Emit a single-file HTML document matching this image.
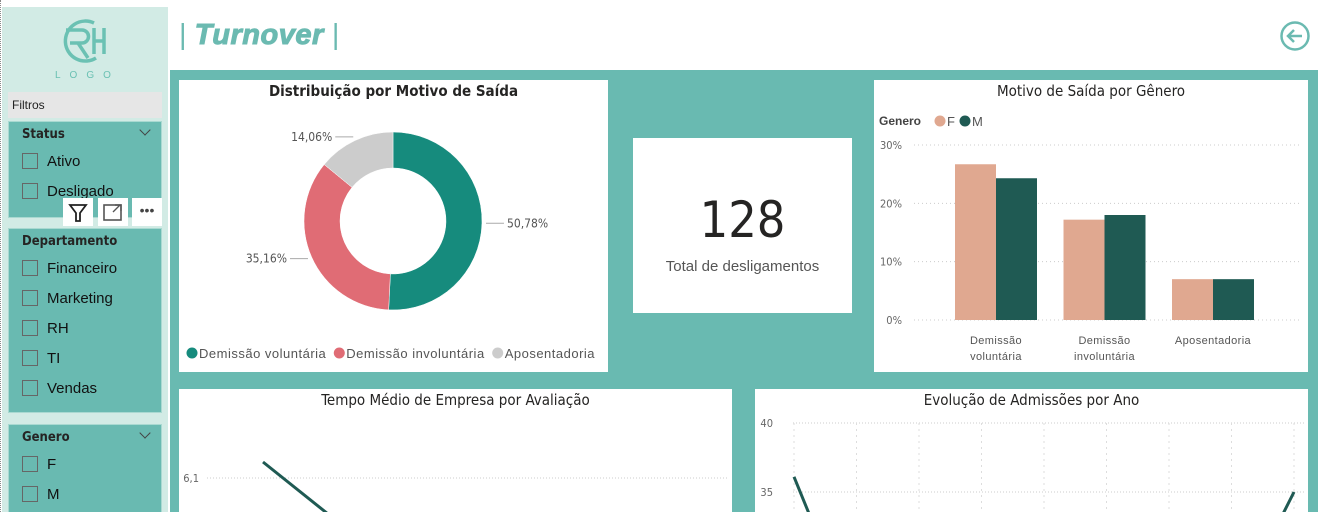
<!DOCTYPE html>
<html><head><meta charset="utf-8"><style>
*{margin:0;padding:0;box-sizing:border-box}
html,body{width:1322px;height:512px;overflow:hidden}
body{background:#fff;font-family:"Liberation Sans","DejaVu Sans",sans-serif;position:relative}
.abs{position:absolute}
.card{position:absolute;background:#fff;overflow:hidden}
.ttl{position:absolute;left:0;right:0;text-align:center;font-size:15px;color:#252423;font-family:"DejaVu Sans Condensed","DejaVu Sans",sans-serif}
.slicer{position:absolute;left:8px;width:154px;background:#69bab1;border:1px solid #a9d9d1;overflow:hidden}
.sh{position:absolute;left:13px;font-size:13px;font-weight:bold;color:#252423;font-family:"DejaVu Sans Condensed","DejaVu Sans",sans-serif}
.item{position:absolute;left:13px;font-size:15px;color:#111;height:18px;line-height:18px}
.item i{display:inline-block;width:16px;height:16px;border:1px solid #666;vertical-align:middle;margin-right:9px;margin-top:-3px}
.chev{position:absolute;right:12px;width:8px;height:8px;border-right:1px solid #444;border-bottom:1px solid #444;transform:rotate(45deg)}
</style></head><body>
<div class="abs" style="left:0;top:0;width:2px;height:512px;border-left:1px dotted #888"></div>
<div class="abs" style="left:2px;top:7px;width:166px;height:505px;background:#d2ebe5"></div>
<svg class="abs" style="left:58px;top:18px" width="54" height="46" viewBox="0 0 54 46">
<path d="M36 5 A20 20 0 1 0 38 40" stroke="#6bc1b3" stroke-width="3.5" fill="none"/>
<path d="M8 12 H24 A6.5 6.5 0 0 1 24 25 H12 M20 25 L30 40" stroke="#6bc1b3" stroke-width="3.5" fill="none"/>
<path d="M36 10 V36 M46 10 V36 M36 23 H46" stroke="#6bc1b3" stroke-width="3.5" fill="none"/>
</svg>
<div class="abs" style="left:55px;top:70px;width:64px;text-align:center;font-size:10px;letter-spacing:9px;color:#6bc1b3">LOGO</div>
<div class="abs" style="left:8px;top:92px;width:154px;height:26px;background:#e6e6e6;font-size:12px;line-height:26px;padding-left:4px;color:#222">Filtros</div>

<div class="slicer" style="top:121px;height:97px">
 <div class="sh" style="top:5px">Status</div><div class="chev" style="top:4px"></div>
 <div class="item" style="top:31px"><i></i>Ativo</div>
 <div class="item" style="top:61px"><i></i>Desligado</div>
</div>
<div class="abs" style="left:63px;top:198px;width:30px;height:28px;background:#fff"><svg width="30" height="28"><path d="M7 7 H23 L17 15 V23 H13 V15 Z" fill="none" stroke="#222" stroke-width="1.8"/></svg></div>
<div class="abs" style="left:98px;top:198px;width:30px;height:28px;background:#fff"><svg width="30" height="28"><rect x="6" y="7" width="17" height="15" fill="none" stroke="#555" stroke-width="1.6"/><path d="M15 14 L22 7 M17 7 H23 V13" stroke="#555" fill="none" stroke-width="1.4"/></svg></div>
<div class="abs" style="left:132px;top:198px;width:30px;height:28px;background:#fff;text-align:center;font-size:14px;line-height:24px;color:#444">•••</div>

<div class="slicer" style="top:228px;height:185px">
 <div class="sh" style="top:5px">Departamento</div>
 <div class="item" style="top:31px"><i></i>Financeiro</div>
 <div class="item" style="top:61px"><i></i>Marketing</div>
 <div class="item" style="top:91px"><i></i>RH</div>
 <div class="item" style="top:121px"><i></i>TI</div>
 <div class="item" style="top:151px"><i></i>Vendas</div>
</div>
<div class="slicer" style="top:424px;height:88px;border-bottom:none">
 <div class="sh" style="top:5px">Genero</div><div class="chev" style="top:4px"></div>
 <div class="item" style="top:31px"><i></i>F</div>
 <div class="item" style="top:61px"><i></i>M</div>
</div>

<div class="abs" style="left:179px;top:19px;font-size:29px;color:#6bbab1;white-space:pre"><span>|</span> <span style="font-weight:700;font-style:italic;-webkit-text-stroke:1px #6bbab1;letter-spacing:0.5px">Turnover</span> <span>|</span></div>
<svg class="abs" style="left:1279px;top:20px" width="32" height="32"><circle cx="16" cy="16" r="13.5" fill="none" stroke="#6bbab1" stroke-width="2.5"/><path d="M23 16 H9 M15 10 L9 16 L15 22" fill="none" stroke="#6bbab1" stroke-width="2.5"/></svg>

<div class="abs" style="left:170px;top:70px;width:1148px;height:442px;background:#69bab1"></div>

<div class="card" style="left:179px;top:80px;width:429px;height:292px">
 <div class="ttl" style="top:2px;font-weight:bold">Distribuição por Motivo de Saída</div>
 <svg id="donut" class="abs" style="left:0;top:0" width="429" height="292"></svg>
</div>
<div class="card" style="left:633px;top:138px;width:219px;height:175px">
 <div class="abs" style="left:0;right:0;top:53px;text-align:center;font-size:50px;color:#252423;font-family:'DejaVu Sans Condensed','DejaVu Sans',sans-serif">128</div>
 <div class="abs" style="left:0;right:0;top:120px;text-align:center;font-size:15px;color:#555">Total de desligamentos</div>
</div>
<div class="card" style="left:874px;top:80px;width:434px;height:292px">
 <div class="ttl" style="top:2px">Motivo de Saída por Gênero</div>
 <svg id="bars" class="abs" style="left:0;top:0" width="434" height="292"></svg>
</div>
<div class="card" style="left:179px;top:389px;width:553px;height:123px">
 <div class="ttl" style="top:2px">Tempo Médio de Empresa por Avaliação</div>
 <svg id="tempo" class="abs" style="left:0;top:0;overflow:hidden" width="553" height="123"><defs><clipPath id="ct"><rect x="0" y="0" width="553" height="123"/></clipPath></defs></svg>
</div>
<div class="card" style="left:755px;top:389px;width:553px;height:123px">
 <div class="ttl" style="top:2px">Evolução de Admissões por Ano</div>
 <svg id="adm" class="abs" style="left:0;top:0;overflow:hidden" width="553" height="123"><defs><clipPath id="ca"><rect x="0" y="0" width="553" height="123"/></clipPath></defs></svg>
</div>

<script>
const NS='http://www.w3.org/2000/svg';
function mk(p,t,a){const e=document.createElementNS(NS,t);for(const k in a)e.setAttribute(k,a[k]);p.appendChild(e);return e;}

// Donut data
const donutLabels=['Demissão voluntária','Demissão involuntária','Aposentadoria'];
const donutValues=[50.78,35.16,14.06];
const donutColors=['#168b7d','#e06c75','#cccccc'];
(function(){
 const s=document.getElementById('donut');const cx=214,cy=141,R=89,r=53;
 const tot=donutValues.reduce((a,b)=>a+b,0);let a0=-Math.PI/2;
 donutValues.forEach((v,i)=>{
  const a1=a0+v/tot*2*Math.PI;const lg=(a1-a0)>Math.PI?1:0;
  const P=(rad,a)=>[cx+rad*Math.cos(a),cy+rad*Math.sin(a)];
  const [x1,y1]=P(R,a0),[x2,y2]=P(R,a1),[x3,y3]=P(r,a1),[x4,y4]=P(r,a0);
  const p=mk(s,'path',{d:`M${x1} ${y1}A${R} ${R} 0 ${lg} 1 ${x2} ${y2}L${x3} ${y3}A${r} ${r} 0 ${lg} 0 ${x4} ${y4}Z`,fill:donutColors[i],stroke:'#fff','stroke-width':0.5});
  
  
  const am=(a0+a1)/2;const [lx,ly]=P(R+4,am);const right=Math.cos(am)>=0;
  const ex=lx+(right?18:-18),ey=ly;
  const ln=mk(s,'polyline',{points:`${lx},${ly} ${ex},${ey}`,fill:'none',stroke:'#aaa'});
  
  
  const t=mk(s,'text',{x:ex+(right?3:-3),y:ey+4,'font-size':12,fill:'#555','text-anchor':right?'start':'end','font-family':'DejaVu Sans Condensed, DejaVu Sans, sans-serif'});
  t.textContent=v.toFixed(2).replace('.',',')+'%';
  
  
  a0=a1;
 });
 let x=7;
 donutLabels.forEach((l,i)=>{
  const c=mk(s,'circle',{cx:x+6,cy:273,r:5.5,fill:donutColors[i]});
  
  
  const t=mk(s,'text',{x:x+13,y:278,'font-size':13,fill:'#555','letter-spacing':0.5});
  t.textContent=l;
  
  
  x+=13+t.getComputedTextLength()+7;
 });
})();

// Bar data
const barCategories=[['Demissão','voluntária'],['Demissão','involuntária'],['Aposentadoria']];
const barF=[26.7,17.2,7.0];
const barM=[24.3,18.0,7.0];
const barTicks=[0,10,20,30];
(function(){
 const s=document.getElementById('bars');const y0=240,yMax=65,x0=40,x1=428;
 const y=v=>y0-(v/30)*(y0-yMax);
 barTicks.forEach(t=>{
  const l=mk(s,'line',{x1:x0,x2:x1,y1:y(t),y2:y(t),stroke:'#ccc','stroke-dasharray':'1 3'});
  
  
  const tx=mk(s,'text',{x:28,y:y(t)+4,'font-size':11,fill:'#666','text-anchor':'end','font-family':'DejaVu Sans Condensed, DejaVu Sans, sans-serif'});
  tx.textContent=t+'%';
  
  
 });
 const bw=41;
 barCategories.forEach((c,i)=>{
  const cx=122+i*108.5;
  const b1=mk(s,'rect',{x:cx-bw,y:y(barF[i]),width:bw,height:y0-y(barF[i]),fill:'#e0a890'});
  
  
  const b2=mk(s,'rect',{x:cx,y:y(barM[i]),width:bw,height:y0-y(barM[i]),fill:'#1f5a53'});
  
  
  c.forEach((ln,j)=>{
   const t=mk(s,'text',{x:cx,y:264+j*16,'font-size':11,fill:'#555','text-anchor':'middle','letter-spacing':0.4});
   t.textContent=ln;
   
   
  });
 });
 const g=mk(s,'text',{x:5,y:45,'font-size':12,'font-weight':'bold',fill:'#444'});g.textContent='Genero';
 
 
 [['F','#e0a890',66],['M','#1f5a53',91]].forEach(([l,c,x])=>{
  const ci=mk(s,'circle',{cx:x,cy:41,r:5.5,fill:c});
  
  
  const t=mk(s,'text',{x:x+7,y:46,'font-size':13,fill:'#555'});t.textContent=l;
  
  
 });
})();

// Tempo médio data
const tempoCategories=[1,2,3,4,5];
const tempoValues=[6.14,5.92,5.7,5.6,5.5];
const tempoTicks=[6.1];
(function(){
 const s=document.getElementById('tempo');
 const y=v=>89-(v-6.1)*400;const x=i=>84+i*110;
 tempoTicks.forEach(t=>{
  const l=mk(s,'line',{x1:28,x2:548,y1:y(t),y2:y(t),stroke:'#ccc','stroke-dasharray':'1 2'});
  
  
  const tx=mk(s,'text',{x:20,y:y(t)+4,'font-size':11,fill:'#666','text-anchor':'end','font-family':'DejaVu Sans Condensed, DejaVu Sans, sans-serif'});
  tx.textContent=String(t).replace('.',',');
  
  
 });
 const p=mk(s,'polyline',{points:tempoValues.map((v,i)=>x(i)+','+y(v)).join(' '),fill:'none',stroke:'#1f5a53','stroke-width':3,'clip-path':'url(#ct)'});
 
 
})();

// Admissões data
const admYears=[2014,2015,2016,2017,2018,2019,2020,2021,2022];
const admValues=[36.1,25,22,20,21,20,22,26,35];
const admTicks=[35,40];
(function(){
 const s=document.getElementById('adm');
 const y=v=>34-(v-40)*13.8;const x=i=>39+i*62.5;
 admTicks.forEach(t=>{
  const l=mk(s,'line',{x1:38,x2:549,y1:y(t),y2:y(t),stroke:'#ccc','stroke-dasharray':'1 2'});
  
  
  const tx=mk(s,'text',{x:18,y:y(t)+4,'font-size':11,fill:'#666','text-anchor':'end','font-family':'DejaVu Sans Condensed, DejaVu Sans, sans-serif'});
  tx.textContent=t;
  
  
 });
 admYears.forEach((yr,i)=>{
  const l=mk(s,'line',{x1:x(i),x2:x(i),y1:y(40),y2:123,stroke:'#ddd','stroke-dasharray':'2 4'});
  
  
 });
 const p=mk(s,'polyline',{points:admValues.map((v,i)=>x(i)+','+y(v)).join(' '),fill:'none',stroke:'#1f5a53','stroke-width':3,'clip-path':'url(#ca)'});
 
 
})();
</script>
</body></html>
